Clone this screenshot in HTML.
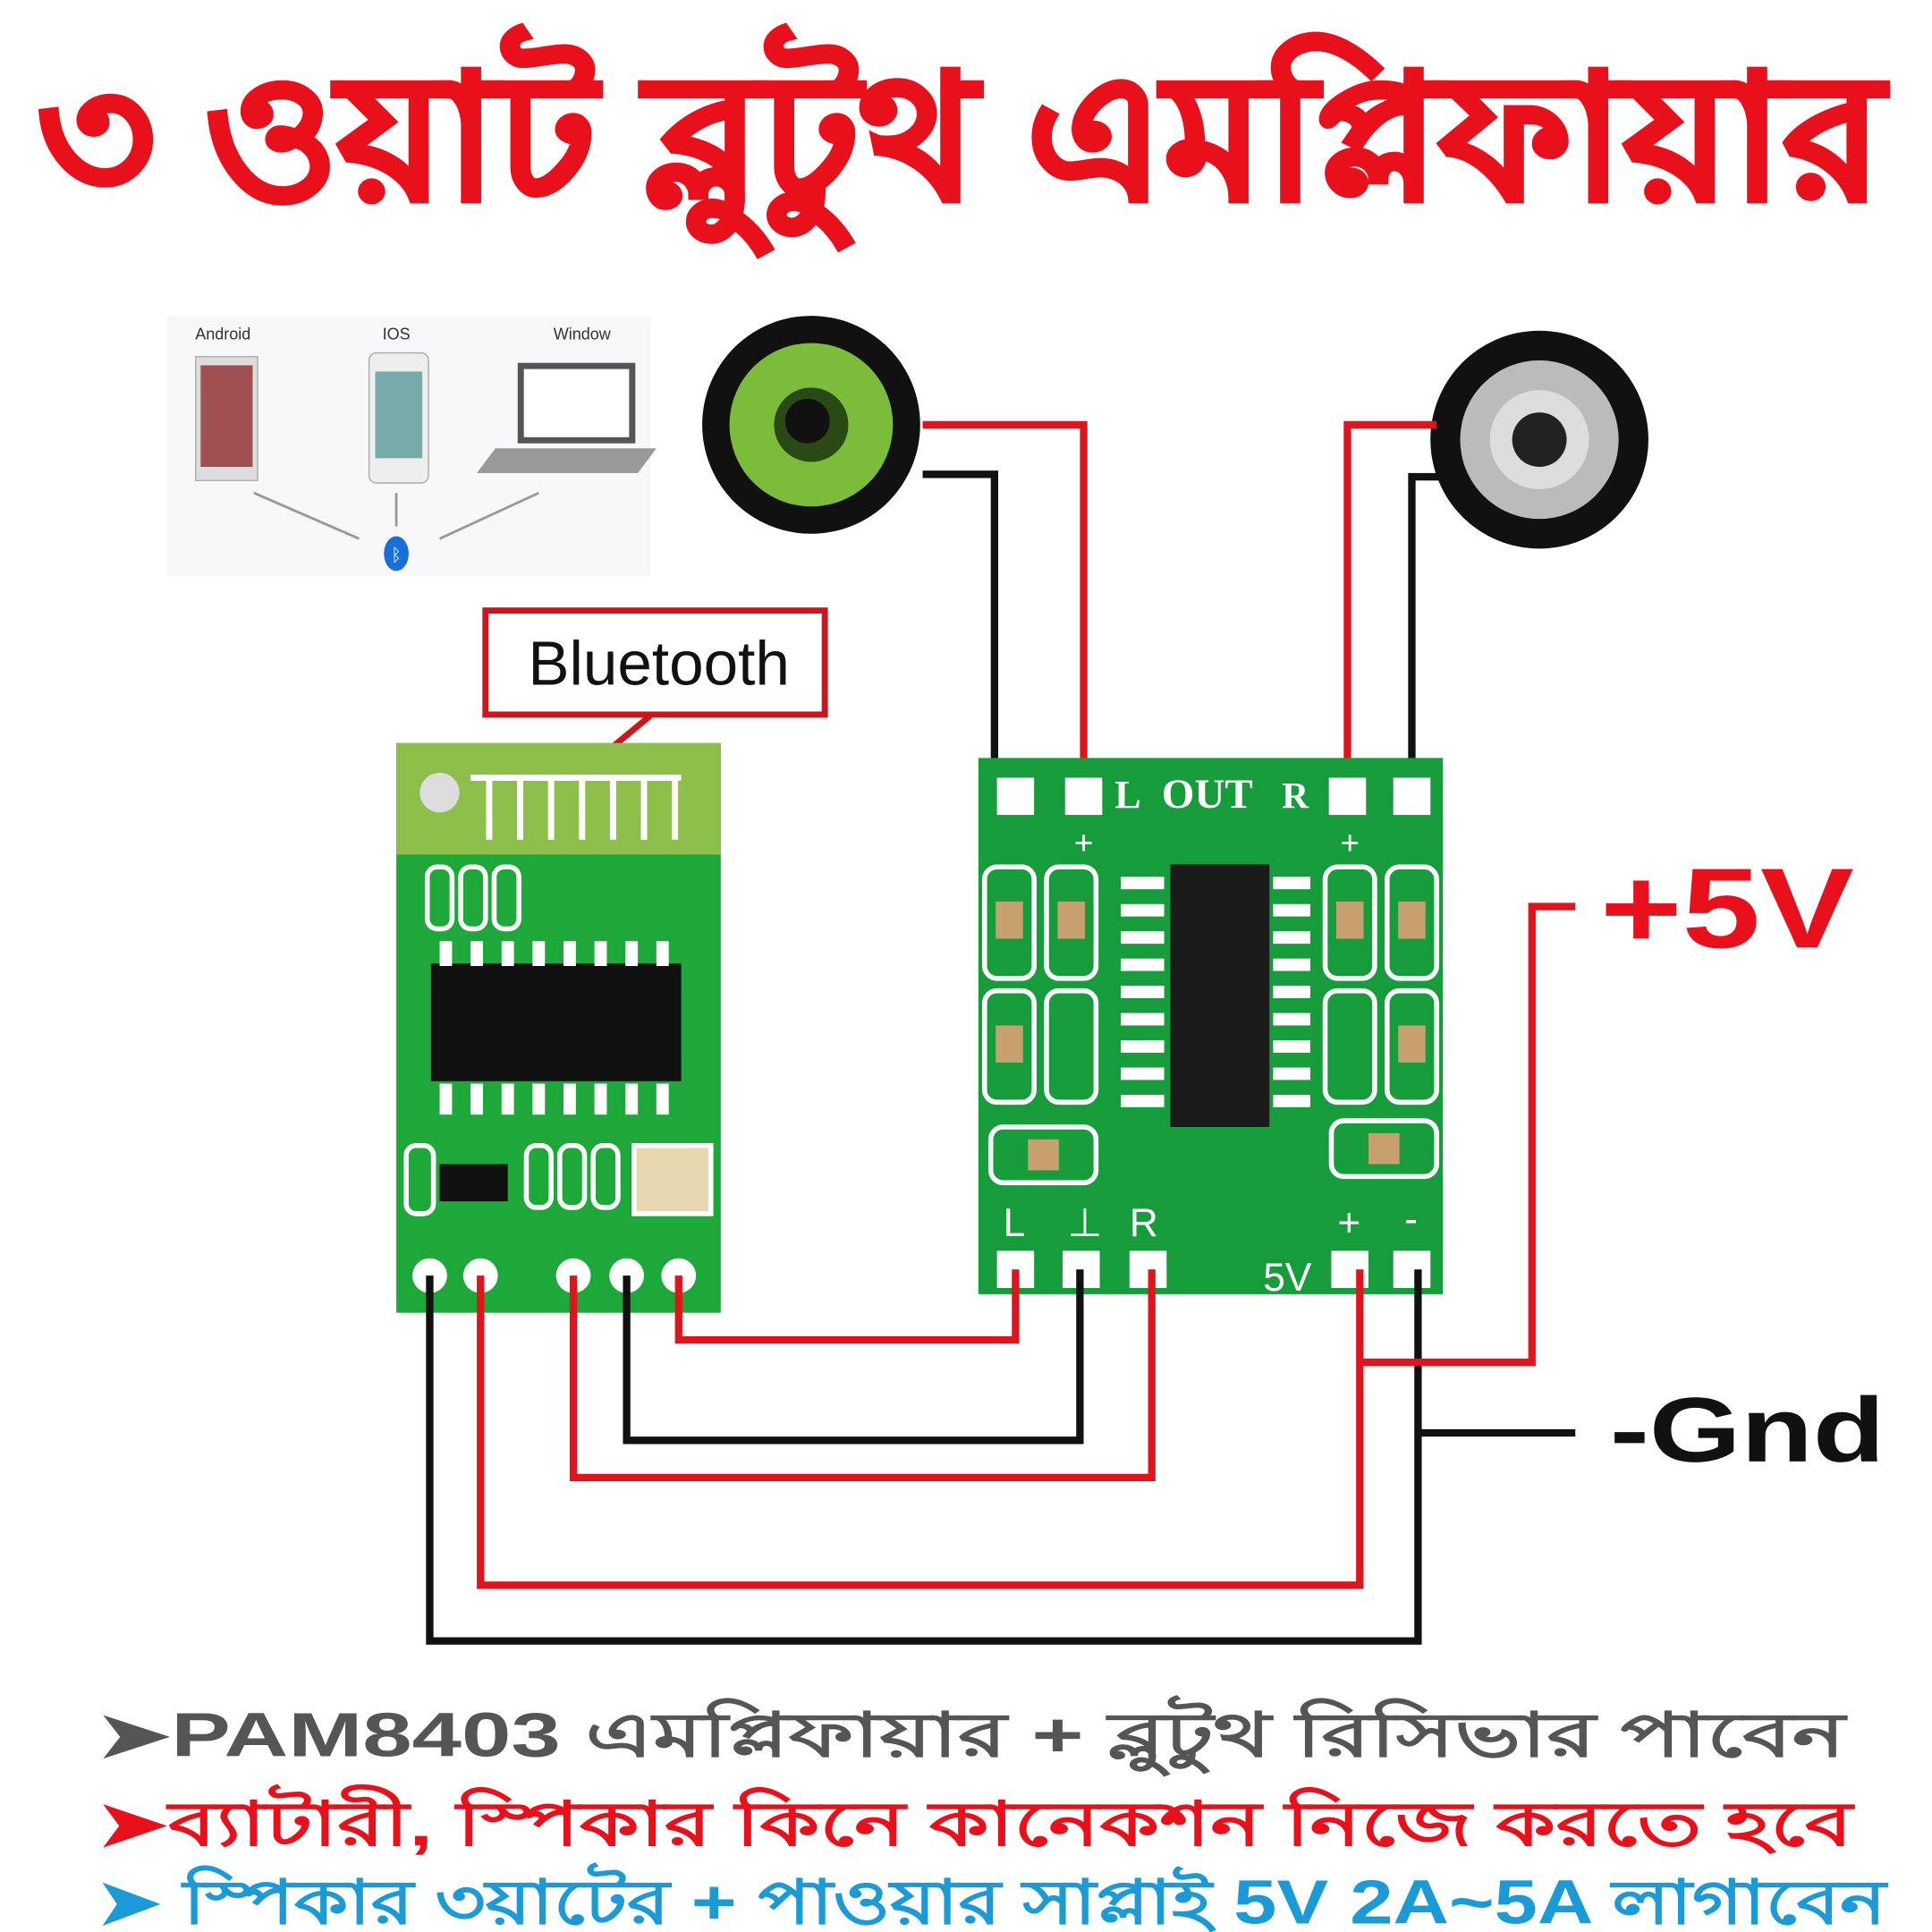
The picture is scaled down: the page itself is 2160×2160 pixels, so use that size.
<!DOCTYPE html>
<html><head><meta charset="utf-8"><style>
html,body{margin:0;padding:0;background:#fff;}
svg{display:block;}
</style></head><body>
<svg width="2160" height="2160" viewBox="0 0 1560 1560" xmlns="http://www.w3.org/2000/svg" font-family="Liberation Sans, sans-serif">
<rect width="1560" height="1560" fill="#fff"/>
<!-- Title -->
<text x="30" y="160" textLength="1490" lengthAdjust="spacingAndGlyphs" font-size="140" font-weight="bold" fill="#e8101a" stroke="#fff" stroke-width="8" paint-order="stroke" style="font-family:'Liberation Sans','Noto Sans CJK SC',sans-serif">৩ ওয়াট ব্লুটুথ এমপ্লিফায়ার</text>
<text x="30" y="160" textLength="1490" lengthAdjust="spacingAndGlyphs" font-size="140" font-weight="bold" fill="#e8101a" stroke="#e8101a" stroke-width="4" style="font-family:'Liberation Sans','Noto Sans CJK SC',sans-serif">৩ ওয়াট ব্লুটুথ এমপ্লিফায়ার</text>

<!-- devices -->
<rect x="135" y="255" width="390" height="210" fill="#f8f8fa"/>
<text x="180" y="274" font-size="13" text-anchor="middle" fill="#333">Android</text>
<text x="320" y="274" font-size="13" text-anchor="middle" fill="#333">IOS</text>
<text x="470" y="274" font-size="13" text-anchor="middle" fill="#333">Window</text>
<rect x="158" y="288" width="50" height="100" fill="#ddd" stroke="#aaa"/>
<rect x="162" y="295" width="42" height="82" fill="#a05050"/>
<rect x="298" y="285" width="48" height="105" rx="6" fill="#eee" stroke="#aaa"/>
<rect x="303" y="300" width="38" height="70" fill="#7aa"/>
<rect x="418" y="293" width="95" height="65" fill="#555"/>
<rect x="423" y="298" width="85" height="55" fill="#fff"/>
<polygon points="400,362 530,362 515,382 385,382" fill="#999"/>
<line x1="205" y1="398" x2="290" y2="435" stroke="#999" stroke-width="2"/>
<line x1="320" y1="398" x2="320" y2="425" stroke="#999" stroke-width="2"/>
<line x1="435" y1="398" x2="355" y2="435" stroke="#999" stroke-width="2"/>
<ellipse cx="320" cy="447" rx="10" ry="14" fill="#1a6ed8"/>
<text x="320" y="453" font-size="14" text-anchor="middle" fill="#fff">ᛒ</text>

<!-- speakers -->
<circle cx="655" cy="343" r="88" fill="#111"/>
<circle cx="655" cy="343" r="66" fill="#7bbd3a"/>
<circle cx="655" cy="343" r="30" fill="#2a4a15"/>
<circle cx="652" cy="340" r="18" fill="#111"/>
<circle cx="1243" cy="355" r="88" fill="#111"/>
<circle cx="1243" cy="355" r="64" fill="#bbb"/>
<circle cx="1243" cy="355" r="40" fill="#ddd"/>
<circle cx="1243" cy="355" r="22" fill="#222"/>

<!-- speaker wires -->
<g fill="none" stroke-width="6">
<polyline points="745,343 875,343 875,640" stroke="#e0141c"/>
<polyline points="745,383 803,383 803,640" stroke="#111"/>
<polyline points="1160,343 1088,343 1088,640" stroke="#e0141c"/>
<polyline points="1165,385 1140,385 1140,640" stroke="#111"/>
</g>

<!-- Bluetooth label -->
<rect x="392" y="493" width="274" height="84" fill="#fff" stroke="#d0141c" stroke-width="5"/>
<text x="532" y="553" font-size="50" text-anchor="middle" fill="#111">Bluetooth</text>
<line x1="525" y1="578" x2="450" y2="640" stroke="#d0141c" stroke-width="5"/>

<!-- BT module -->
<rect x="320" y="600" width="262" height="460" fill="#1fa83a"/>
<rect x="320" y="600" width="262" height="90" fill="#8dbf4a"/>
<circle cx="355" cy="640" r="16" fill="#ddd"/>
<path d="M380,628 h170 M395,628 v50 M420,628 v50 M445,628 v50 M470,628 v50 M495,628 v50 M520,628 v50 M545,628 v50" stroke="#fff" stroke-width="5"/>
<rect x="348" y="778" width="202" height="95" fill="#111"/>
<g fill="#fff">
<rect x="355" y="760" width="10" height="20"/><rect x="380" y="760" width="10" height="20"/><rect x="405" y="760" width="10" height="20"/><rect x="430" y="760" width="10" height="20"/><rect x="455" y="760" width="10" height="20"/><rect x="480" y="760" width="10" height="20"/><rect x="505" y="760" width="10" height="20"/><rect x="530" y="760" width="10" height="20"/>
<rect x="355" y="875" width="10" height="25"/><rect x="380" y="875" width="10" height="25"/><rect x="405" y="875" width="10" height="25"/><rect x="430" y="875" width="10" height="25"/><rect x="455" y="875" width="10" height="25"/><rect x="480" y="875" width="10" height="25"/><rect x="505" y="875" width="10" height="25"/><rect x="530" y="875" width="10" height="25"/>
</g>
<g fill="none" stroke="#fff" stroke-width="4">
<rect x="345" y="700" width="20" height="50" rx="8"/><rect x="372" y="700" width="20" height="50" rx="8"/><rect x="399" y="700" width="20" height="50" rx="8"/>
<rect x="425" y="925" width="20" height="50" rx="8"/><rect x="452" y="925" width="20" height="50" rx="8"/><rect x="479" y="925" width="20" height="50" rx="8"/>
<rect x="328" y="925" width="22" height="55" rx="8"/>
</g>
<rect x="355" y="940" width="55" height="30" fill="#111"/>
<rect x="512" y="925" width="62" height="55" fill="#e8d8b0" stroke="#fff" stroke-width="4"/>
<g fill="#fff"><circle cx="347" cy="1030" r="14"/><circle cx="388" cy="1030" r="14"/><circle cx="463" cy="1030" r="14"/><circle cx="506" cy="1030" r="14"/><circle cx="548" cy="1030" r="14"/></g>

<!-- Amp module -->
<rect x="790" y="612" width="375" height="433" fill="#169c3a"/>
<rect x="945" y="698" width="80" height="212" fill="#1b1b1b"/>
<g fill="#fff">
<rect x="805" y="628" width="30" height="30"/><rect x="860" y="628" width="30" height="30"/><rect x="1073" y="628" width="30" height="30"/><rect x="1125" y="628" width="30" height="30"/>
<rect x="805" y="1010" width="30" height="30"/><rect x="858" y="1010" width="30" height="30"/><rect x="912" y="1010" width="30" height="30"/><rect x="1075" y="1010" width="30" height="30"/><rect x="1125" y="1010" width="30" height="30"/>
<rect x="905" y="708" width="35" height="10"/><rect x="905" y="730" width="35" height="10"/><rect x="905" y="752" width="35" height="10"/><rect x="905" y="774" width="35" height="10"/><rect x="905" y="796" width="35" height="10"/><rect x="905" y="818" width="35" height="10"/><rect x="905" y="840" width="35" height="10"/><rect x="905" y="862" width="35" height="10"/><rect x="905" y="884" width="35" height="10"/>
<rect x="1028" y="708" width="30" height="10"/><rect x="1028" y="730" width="30" height="10"/><rect x="1028" y="752" width="30" height="10"/><rect x="1028" y="774" width="30" height="10"/><rect x="1028" y="796" width="30" height="10"/><rect x="1028" y="818" width="30" height="10"/><rect x="1028" y="840" width="30" height="10"/><rect x="1028" y="862" width="30" height="10"/><rect x="1028" y="884" width="30" height="10"/>
</g>
<g fill="none" stroke="#fff" stroke-width="4">
<rect x="795" y="700" width="40" height="90" rx="10"/><rect x="845" y="700" width="40" height="90" rx="10"/><rect x="1070" y="700" width="40" height="90" rx="10"/><rect x="1120" y="700" width="40" height="90" rx="10"/>
<rect x="795" y="800" width="40" height="90" rx="10"/><rect x="845" y="800" width="40" height="90" rx="10"/><rect x="1070" y="800" width="40" height="90" rx="10"/><rect x="1120" y="800" width="40" height="90" rx="10"/>
<rect x="800" y="910" width="85" height="45" rx="10"/><rect x="1075" y="905" width="85" height="45" rx="10"/>
</g>
<g fill="#c8a070"><rect x="804" y="728" width="22" height="30"/><rect x="854" y="728" width="22" height="30"/><rect x="1079" y="728" width="22" height="30"/><rect x="1129" y="728" width="22" height="30"/><rect x="804" y="828" width="22" height="30"/><rect x="1129" y="828" width="22" height="30"/><rect x="830" y="920" width="25" height="25"/><rect x="1105" y="915" width="25" height="25"/></g>
<g fill="#fff" font-family="Liberation Serif, serif" font-weight="bold">
<text x="900" y="652" font-size="32">L</text>
<text x="938" y="652" font-size="34">OUT</text>
<text x="1035" y="652" font-size="30">R</text>
<text x="875" y="690" font-size="28" text-anchor="middle">+</text>
<text x="1090" y="690" font-size="28" text-anchor="middle">+</text>
</g>
<g fill="#fff" font-size="32">
<text x="810" y="998">L</text><text x="862" y="998">⊥</text><text x="912" y="998">R</text>
<text x="1080" y="998">+</text><text x="1134" y="995">-</text>
<text x="1020" y="1042">5V</text>
</g>

<!-- bottom wires -->
<g fill="none" stroke-width="6">
<polyline points="548,1030 548,1082 820,1082 820,1025" stroke="#e0141c"/>
<polyline points="506,1030 506,1163 872,1163 872,1025" stroke="#111"/>
<polyline points="463,1030 463,1193 930,1193 930,1025" stroke="#e0141c"/>
<polyline points="388,1030 388,1280 1098,1280 1098,1025" stroke="#e0141c"/>
<polyline points="347,1030 347,1325 1145,1325 1145,1025" stroke="#111"/>
<polyline points="1098,1100 1237,1100 1237,732 1272,732" stroke="#e0141c"/>
<polyline points="1145,1157 1272,1157" stroke="#111"/>
</g>
<text x="1292" y="765" textLength="205" lengthAdjust="spacingAndGlyphs" font-size="92" font-weight="bold" fill="#e8101a">+5V</text>
<text x="1300" y="1180" textLength="222" lengthAdjust="spacingAndGlyphs" font-size="74" font-weight="bold" fill="#111">-Gnd</text>

<!-- bottom text -->
<g font-size="50" font-weight="bold" style="font-family:'Liberation Sans','Noto Sans CJK SC',sans-serif" lengthAdjust="spacingAndGlyphs">
<text x="78" y="1418" textLength="1412" lengthAdjust="spacingAndGlyphs" fill="#555">➤PAM8403 এমপ্লিফায়ার + ব্লুটুথ রিসিভার পাবেন</text>
<text x="78" y="1490" textLength="1418" lengthAdjust="spacingAndGlyphs" fill="#e8101a">➤ব্যাটারী, স্পিকার কিনে কানেকশন নিজে করতে হবে</text>
<text x="78" y="1553" textLength="1445" lengthAdjust="spacingAndGlyphs" fill="#1a9ad6">➤ স্পিকার ৩য়াটের + পাওয়ার সাপ্লাই 5V 2A~5A লাগাবেন</text>
</g>
</svg>
</body></html>
